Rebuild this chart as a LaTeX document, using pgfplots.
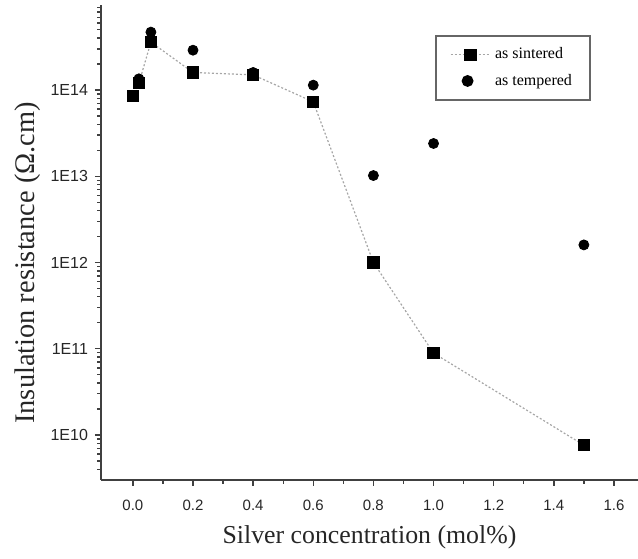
\documentclass[border=0pt]{standalone}
\usepackage{pgfplots}
\pgfplotsset{compat=1.18}
\usepackage{fontspec}
\setmainfont{Liberation Serif}
\setsansfont{Liberation Sans}
\begin{document}
\begin{tikzpicture}
\path[use as bounding box] (-50.5pt,-39pt) rectangle (268.5pt,240pt);
\begin{axis}[
  scale only axis,
  width=268.5pt, height=237.5pt,
  ymode=log,
  xmin=-0.106, xmax=1.68,
  ymin=3e9, ymax=9.7e14,
  axis lines*=left,
  axis line style={black!75, line width=0.9pt, -},
  tick align=outside,
  major tick length=3pt,
  minor tick length=1.8pt,
  every tick/.style={black!75, line width=0.7pt},
  xtick={0,0.2,0.4,0.6,0.8,1.0,1.2,1.4,1.6},
  minor xtick={0.1,0.3,0.5,0.7,0.9,1.1,1.3,1.5},
  ytick={1e10,1e11,1e12,1e13,1e14},
  yticklabels={1E10,1E11,1E12,1E13,1E14},
  minor ytick={4e9,5e9,6e9,7e9,8e9,9e9,
    2e10,3e10,4e10,5e10,6e10,7e10,8e10,9e10,
    2e11,3e11,4e11,5e11,6e11,7e11,8e11,9e11,
    2e12,3e12,4e12,5e12,6e12,7e12,8e12,9e12,
    2e13,3e13,4e13,5e13,6e13,7e13,8e13,9e13,
    2e14,3e14,4e14,5e14,6e14,7e14,8e14,9e14},
  /pgf/number format/assume math mode=true,
  xticklabel style={font=\sffamily\fontsize{7.5}{9}\selectfont, text=black!85, yshift=-3.5pt,
    /pgf/number format/fixed, /pgf/number format/fixed zerofill, /pgf/number format/precision=1},
  yticklabel style={font=\sffamily\fontsize{8}{9}\selectfont, text=black!85},
  xlabel={Silver concentration (mol\%)},
  ylabel={Insulation resistance (Ω.cm)},
  xlabel style={at={(axis description cs:0.5,-0.12)}, anchor=center, font=\fontsize{12.9}{14}\selectfont, text=black!85},
  ylabel style={at={(axis description cs:-0.136,0.457)}, anchor=center, font=\fontsize{14.2}{16}\selectfont, text=black!85},
  legend style={at={(0.622,0.937)}, anchor=north west, draw=black!60, line width=0.9pt,
    font=\fontsize{8}{9}\selectfont, inner xsep=7pt, inner ysep=4pt, row sep=2pt},
  legend cell align=left,
  clip=false,
]
\addplot[gray!70, line width=0.6pt, dash pattern=on 1pt off 1pt,
  mark=square*, mark size=2.75pt, mark options={black, solid, fill=black},
  legend image code/.code={\draw[mark repeat=2,mark phase=2] plot coordinates {(0pt,0pt) (10pt,0pt) (20pt,0pt)};}]
  coordinates {
  (0.0,8.5e13) (0.02,1.2e14) (0.06,3.6e14) (0.2,1.6e14) (0.4,1.5e14)
  (0.6,7.3e13) (0.8,1.0e12) (1.0,8.9e10) (1.5,7.6e9)
  };
\addlegendentry{as sintered\hspace{14pt}}
\addplot[only marks, mark=*, mark size=2.5pt, mark options={black, fill=black}]
  coordinates {
  (0.02,1.35e14) (0.06,4.7e14) (0.2,2.9e14) (0.4,1.6e14)
  (0.6,1.14e14) (0.8,1.02e13) (1.0,2.4e13) (1.5,1.6e12)
  };
\addlegendentry{as tempered}
\end{axis}
\end{tikzpicture}
\end{document}
